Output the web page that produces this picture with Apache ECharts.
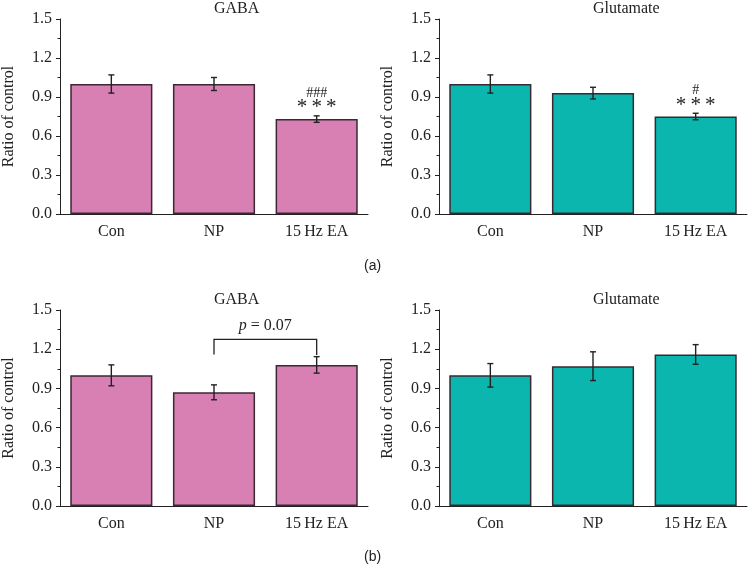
<!DOCTYPE html>
<html>
<head>
<meta charset="utf-8">
<script src="https://cdn.jsdelivr.net/npm/echarts@6/dist/echarts.min.js"></script>
<style>
  html, body { margin: 0; padding: 0; background: #fff; }
  #chart { width: 748px; height: 582px; }
</style>
</head>
<body>
<div id="chart"></div>
<script>
// data
var categories = ['Con', 'NP', '15\u2009Hz EA'];
var yTicks = [0, 0.3, 0.6, 0.9, 1.2, 1.5];

var titles = ['GABA', 'Glutamate', 'GABA', 'Glutamate'];
var means = [
    [1.00, 1.00, 0.73],   // (a) GABA
    [1.00, 0.93, 0.75],   // (a) Glutamate
    [1.00, 0.87, 1.08],   // (b) GABA
    [1.00, 1.07, 1.16]    // (b) Glutamate
];
var errors = [
    [0.07, 0.05, 0.025],
    [0.07, 0.045, 0.025],
    [0.08, 0.057, 0.063],
    [0.09, 0.11, 0.075]
];
var starMarks = [
    ['', '', '***'],
    ['', '', '***'],
    ['', '', ''],
    ['', '', '']
];
var hashMarks = [
    ['', '', '###'],
    ['', '', '#'],
    ['', '', ''],
    ['', '', '']
];
// p-value bracket in panel (b) GABA: from, to, top, left leg end, right leg end
var bracketCats = [1, 2];
var bracketLevels = [1.275, 1.16, 1.155];
var bracketText = '0.07';

var pink = '#d880b3';
var teal = '#0ab6ae';
var colors = [pink, teal, pink, teal];
var font = '"Liberation Serif", "DejaVu Serif", serif';

var grids = [
    {left: 60, top: 19, width: 308, height: 195},
    {left: 439, top: 19, width: 308, height: 195},
    {left: 60, top: 310, width: 308, height: 196},
    {left: 439, top: 310, width: 308, height: 196}
];

var myChart = echarts.init(document.getElementById('chart'));

var xAxes = [], yAxes = [], series = [], graphics = [];

grids.forEach(function (g, i) {
    xAxes.push({
        type: 'category', gridIndex: i, data: categories, position: 'bottom',
        axisLine: {lineStyle: {color: '#222', width: 1}},
        axisTick: {alignWithLabel: true, length: 5, lineStyle: {color: '#222'}},
        axisLabel: {color: '#222', fontFamily: font, fontSize: 16, margin: 10}
    });
    xAxes.push({
        type: 'category', gridIndex: i, data: categories, position: 'bottom',
        axisLine: {show: false},
        axisTick: {length: 3, lineStyle: {color: '#222'}},
        axisLabel: {show: false}
    });
    yAxes.push({
        type: 'value', gridIndex: i, min: yTicks[0], max: yTicks[yTicks.length - 1],
        interval: yTicks[1] - yTicks[0],
        name: 'Ratio of control', nameLocation: 'middle', nameGap: 43,
        nameTextStyle: {color: '#222', fontFamily: font, fontSize: 16},
        axisLine: {show: true, lineStyle: {color: '#222', width: 1}},
        axisTick: {show: true, length: 4, lineStyle: {color: '#222'}},
        minorTick: {show: true, splitNumber: 2, length: 2.5, lineStyle: {color: '#222'}},
        splitLine: {show: false},
        axisLabel: {
            color: '#222', fontFamily: font, fontSize: 16, margin: 8,
            formatter: function (v) { return v.toFixed(1); }
        }
    });

    series.push({
        type: 'bar', xAxisIndex: 2 * i, yAxisIndex: i,
        data: means[i], barCategoryGap: '20%',
        itemStyle: {color: colors[i], borderColor: '#3a2833', borderWidth: 1.5}
    });

    // error bars and significance marks
    series.push({
        type: 'custom', xAxisIndex: 2 * i, yAxisIndex: i, z: 5,
        data: means[i].map(function (m, k) { return [k, m - errors[i][k], m + errors[i][k]]; }),
        renderItem: function (params, api) {
            var k = api.value(0);
            var lo = api.coord([k, api.value(1)]);
            var hi = api.coord([k, api.value(2)]);
            var style = {stroke: '#222', lineWidth: 1.4};
            var children = [
                {type: 'line', shape: {x1: hi[0], y1: hi[1], x2: lo[0], y2: lo[1]}, style: style},
                {type: 'line', shape: {x1: hi[0] - 3, y1: hi[1], x2: hi[0] + 3, y2: hi[1]}, style: style},
                {type: 'line', shape: {x1: lo[0] - 3, y1: lo[1], x2: lo[0] + 3, y2: lo[1]}, style: style}
            ];
            var stars = starMarks[i][params.dataIndex];
            var hashes = hashMarks[i][params.dataIndex];
            if (stars) {
                children.push({type: 'text', style: {
                    text: stars.split('').join('\u2009'), x: hi[0], y: hi[1] - 8,
                    align: 'center', verticalAlign: 'middle',
                    font: '21px ' + font, fill: '#222'
                }});
            }
            if (hashes) {
                children.push({type: 'text', style: {
                    text: hashes, x: hi[0], y: hi[1] - 23,
                    align: 'center', verticalAlign: 'middle',
                    font: '14px ' + font, fill: '#222'
                }});
            }
            return {type: 'group', children: children};
        }
    });

    graphics.push({
        type: 'text', left: g.left + g.width / 2, top: g.top - 18, z: 10,
        style: {text: titles[i], font: '16px ' + font, fill: '#222', textAlign: 'center'}
    });
});

// p-value bracket on panel (b) GABA
series.push({
    type: 'custom', xAxisIndex: 4, yAxisIndex: 2, z: 6,
    data: [[bracketCats[0], bracketCats[1]]],
    renderItem: function (params, api) {
        var a0 = api.coord([api.value(0), bracketLevels[1]]);
        var a1 = api.coord([api.value(0), bracketLevels[0]]);
        var b1 = api.coord([api.value(1), bracketLevels[0]]);
        var b0 = api.coord([api.value(1), bracketLevels[2]]);
        return {type: 'group', children: [
            {type: 'polyline', shape: {points: [a0, a1, b1, b0]},
             style: {stroke: '#222', lineWidth: 1.3, fill: null}},
            {type: 'text', style: {
                text: '{i|p} = ' + bracketText,
                x: (a1[0] + b1[0]) / 2, y: a1[1] - 14,
                align: 'center', verticalAlign: 'middle',
                font: '16px ' + font, fill: '#222',
                rich: {i: {fontStyle: 'italic', fontFamily: font, fontSize: 16, fill: '#222'}}
            }}
        ]};
    }
});

graphics.push({type: 'text', left: 364, top: 259,
    style: {text: '(a)', font: '14px "Liberation Sans", sans-serif', fill: '#222'}});
graphics.push({type: 'text', left: 364, top: 550,
    style: {text: '(b)', font: '14px "Liberation Sans", sans-serif', fill: '#222'}});

var option = {
    backgroundColor: '#ffffff',
    animation: false,
    grid: grids,
    xAxis: xAxes,
    yAxis: yAxes,
    series: series,
    graphic: graphics
};
myChart.setOption(option);
</script>
</body>
</html>
